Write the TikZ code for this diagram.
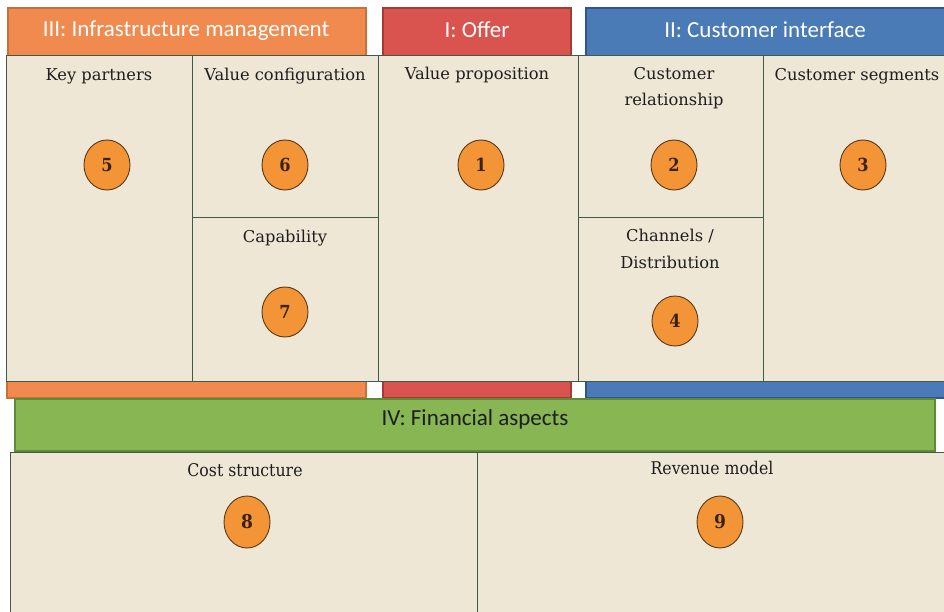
\documentclass[tikz,border=0pt]{standalone}
\usepackage{fontspec}
\setmainfont{DejaVu Serif}
\newfontfamily\hdrfont{Carlito}
\newfontfamily\condserif[FakeStretch=0.9]{DejaVu Serif}
\newfontfamily\numfont[FakeStretch=0.9]{DejaVu Serif}
\definecolor{cellbg}{HTML}{EEE7D6}
\definecolor{cellline}{HTML}{3F5A48}
\definecolor{orfill}{HTML}{F08A4E}
\definecolor{ordraw}{HTML}{C9703A}
\definecolor{rdfill}{HTML}{D9534F}
\definecolor{rddraw}{HTML}{A63A36}
\definecolor{blfill}{HTML}{4A7BB6}
\definecolor{bldraw}{HTML}{2F5688}
\definecolor{grfill}{HTML}{87B653}
\definecolor{grdraw}{HTML}{5F8A3B}
\definecolor{circfill}{HTML}{F39436}
\definecolor{circdraw}{HTML}{5A3818}
\definecolor{numcol}{HTML}{3A2210}
\definecolor{txtcol}{HTML}{1E1E1E}
\usetikzlibrary{shapes.geometric}
\begin{document}
\begin{tikzpicture}[x=1pt,y=-1pt,
  cell/.style={draw=cellline,fill=cellbg,line width=1pt},
  hdr/.style={line width=2pt},
  hdrtext/.style={font=\hdrfont\fontsize{23}{26}\selectfont,text=white},
  title/.style={font=\fontsize{16.3}{26}\selectfont,text=txtcol,anchor=base,inner sep=0pt},
  btitle/.style={font=\condserif\fontsize{17.5}{26}\selectfont,text=txtcol,anchor=base,inner sep=0pt},
  num/.style={ellipse,draw=circdraw,fill=circfill,line width=0.9pt,minimum width=46pt,minimum height=50pt,inner sep=0pt,font=\numfont\bfseries\fontsize{18}{20}\selectfont,text=numcol},
  bnum/.style={num,minimum width=46pt,minimum height=52pt,font=\condserif\bfseries\fontsize{19}{20}\selectfont}
]
\useasboundingbox (0,0) rectangle (944,612);
\fill[white] (0,0) rectangle (944,612);
% headers
\draw[hdr,fill=orfill,draw=ordraw] (8,8) rectangle (366,56);
\draw[hdr,fill=rdfill,draw=rddraw] (383,8) rectangle (571,56);
\draw[hdr,fill=blfill,draw=bldraw] (586,8) rectangle (950,56);
\node[hdrtext] (h3) at (186,31) {III: Infrastructure management};
\node[hdrtext] (h1) at (477,30) {I: Offer};
\node[hdrtext] (h2) at (765,30) {II: Customer interface};
% bottom coloured strips
\draw[hdr,fill=orfill,draw=ordraw] (7,381) rectangle (366,398);
\draw[hdr,fill=rdfill,draw=rddraw] (383,381) rectangle (571,398);
\draw[hdr,fill=blfill,draw=bldraw] (586,381) rectangle (950,398);
% grid cells
\draw[cell] (6,56) rectangle (192,381);
\draw[cell] (192,56) rectangle (378,218);
\draw[cell] (192,218) rectangle (378,381);
\draw[cell] (378,56) rectangle (578,381);
\draw[cell] (578,56) rectangle (763,218);
\draw[cell] (578,218) rectangle (763,381);
\draw[cell] (763,56) rectangle (950,381);
% financial bar
\draw[line width=1.5pt,fill=grfill,draw=grdraw] (15,399) rectangle (935,451);
\node[font=\hdrfont\fontsize{23}{26}\selectfont,text=txtcol] (h4) at (475,419) {IV: Financial aspects};
% bottom cells
\draw[cell] (10,452) rectangle (477,620);
\draw[cell] (477,452) rectangle (950,620);
% titles
\node[title] (t5) at (99,81) {Key partners};
\node[title] (t6) at (285,81) {Value configuration};
\node[title] (t1) at (477,80) {Value proposition};
\node[title] (t2a) at (674,80) {Customer};
\node[title] (t2b) at (674,106) {relationship};
\node[title] (t3) at (857,81) {Customer segments};
\node[title] (t7) at (285,243) {Capability};
\node[title] (t4a) at (670,241) {Channels /};
\node[title] (t4b) at (670,268) {Distribution};
\node[btitle] (t8) at (245,476) {Cost structure};
\node[btitle] (t9) at (712,474) {Revenue model};
% numbers
\node[num] (n5) at (107,165) {5};
\node[num] (n6) at (285,165) {6};
\node[num] (n1) at (481,165) {1};
\node[num] (n2) at (674,165) {2};
\node[num] (n3) at (863,165) {3};
\node[num] (n7) at (285,312) {7};
\node[num] (n4) at (675,321) {4};
\node[bnum] (n8) at (247,522) {8};
\node[bnum] (n9) at (720,522) {9};
\end{tikzpicture}
\end{document}
